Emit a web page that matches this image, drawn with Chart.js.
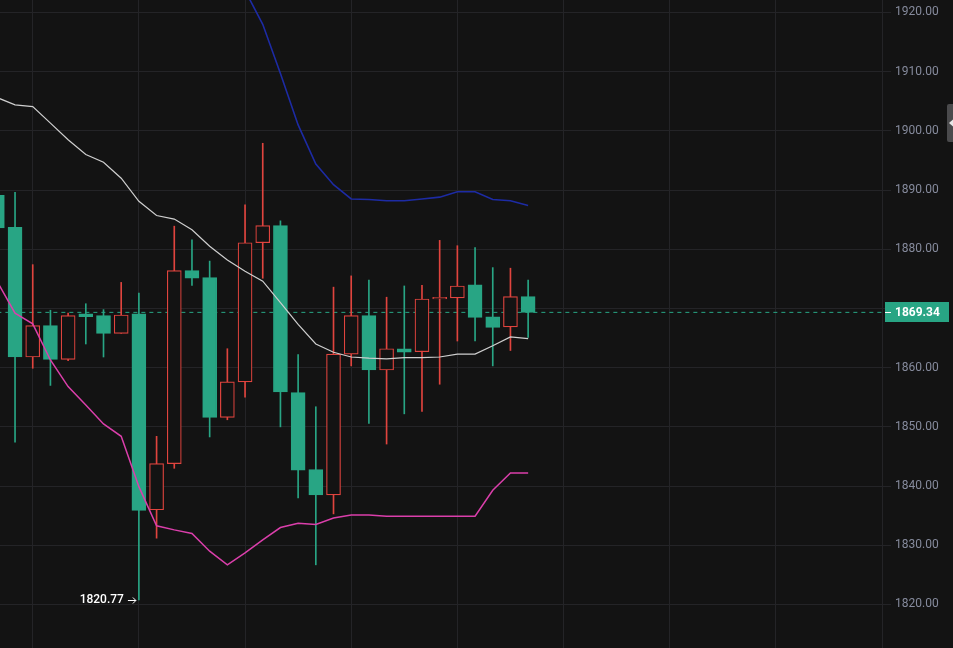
<!DOCTYPE html>
<html>
<head>
<meta charset="utf-8">
<script src="https://cdn.jsdelivr.net/npm/chart.js@4.4.1/dist/chart.umd.min.js"></script>
<style>
  html, body { margin: 0; padding: 0; background: #131313; overflow: hidden; }
  #c { display: block; width: 953px; height: 648px; }
</style>
</head>
<body>
<canvas id="c" width="953" height="648"></canvas>
<script>
// slot positions: first candle is cut off by the left edge
const slots  = [-1, 0, 1, 2, 3, 4, 5, 6, 7, 8, 9, 10, 11, 12, 13, 14, 15, 16, 17, 18, 19, 20, 21, 22, 23, 24, 25, 26, 27, 28, 29];
const opens  = [1889.1, 1883.7, 1861.8, 1867.1, 1861.4, 1869.1, 1868.8, 1865.8, 1869.1, 1836.0, 1843.8, 1876.4, 1875.2, 1851.6, 1857.6, 1881.1, 1884.0, 1855.8, 1842.8, 1838.5, 1862.3, 1868.8, 1859.6, 1863.2, 1862.7, 1871.6, 1871.8, 1874.0, 1868.6, 1866.9, 1872.0];
const highs  = [1890.5, 1889.6, 1877.4, 1869.7, 1869.2, 1870.8, 1869.8, 1874.4, 1872.6, 1848.4, 1883.9, 1881.6, 1878.0, 1863.2, 1887.5, 1897.9, 1884.8, 1862.2, 1853.4, 1873.6, 1875.5, 1874.8, 1871.9, 1873.8, 1873.9, 1881.5, 1880.6, 1880.3, 1876.9, 1876.8, 1874.8];
const lows   = [1882.0, 1847.4, 1859.9, 1857.0, 1861.2, 1864.0, 1861.8, 1865.8, 1820.77, 1831.2, 1843.0, 1873.9, 1848.3, 1851.2, 1855.0, 1875.1, 1850.0, 1838.0, 1826.7, 1835.3, 1860.3, 1850.6, 1847.1, 1852.2, 1852.6, 1857.2, 1864.5, 1864.5, 1860.3, 1862.9, 1865.1];
const closes = [1883.6, 1861.8, 1867.1, 1861.4, 1868.8, 1868.6, 1865.8, 1868.9, 1835.9, 1843.8, 1876.4, 1875.1, 1851.6, 1857.6, 1881.1, 1884.0, 1855.9, 1842.7, 1838.5, 1862.3, 1868.8, 1859.6, 1863.2, 1862.6, 1871.6, 1871.9, 1873.8, 1868.5, 1866.8, 1872.0, 1869.34];

// band lines (null = above the visible range)
const midBand   = [1905.6, 1904.4, 1904.1, 1901.3, 1898.5, 1896.0, 1894.7, 1892.0, 1888.1, 1885.7, 1885.1, 1883.3, 1880.5, 1878.2, 1876.3, 1874.6, 1871.0, 1867.3, 1864.0, 1862.6, 1861.8, 1861.6, 1861.5, 1861.7, 1861.7, 1861.8, 1862.3, 1862.3, 1863.7, 1865.2, 1864.9];
const upperBand = [null, null, null, null, null, null, null, null, null, null, null, null, null, null, 1923.7, 1918.0, 1909.7, 1901.0, 1894.4, 1890.9, 1888.5, 1888.4, 1888.2, 1888.2, 1888.5, 1888.8, 1889.7, 1889.7, 1888.4, 1888.2, 1887.4];
const lowerBand = [1874.5, 1869.2, 1867.4, 1861.3, 1856.8, 1853.7, 1850.5, 1848.4, 1839.9, 1833.3, 1832.6, 1832.0, 1829.0, 1826.7, 1828.7, 1830.9, 1833.0, 1833.7, 1833.5, 1834.6, 1835.1, 1835.1, 1834.9, 1834.9, 1834.9, 1834.9, 1834.9, 1834.9, 1839.3, 1842.2, 1842.2];

const yTicks = [1820, 1830, 1840, 1850, 1860, 1870, 1880, 1890, 1900, 1910, 1920];
const xGrid  = [1, 7, 13, 19, 25, 31, 37, 43, 49];

const lastPrice = closes[closes.length - 1];
const lowIdx = lows.indexOf(Math.min(...lows));

const BG = '#131313';
const UP = '#e0443e';     // red hollow = rising
const DOWN = '#28a584';   // green filled = falling
const GRID = '#242427';

const isUp = opens.map((o, i) => closes[i] >= o);

const bodies = slots.map((x, i) => ({ x, y: [opens[i], closes[i]] }));
const wicks  = slots.map((x, i) => ({ x, y: [lows[i], highs[i]] }));
const line = arr => slots.map((x, i) => ({ x, y: arr[i] }));

// price tag on the axis, low marker, small handle at the right edge
const overlay = {
  id: 'overlay',
  afterDraw(chart) {
    const { ctx, scales: { x, y }, chartArea } = chart;
    ctx.save();
    // last price tag
    const py = Math.round(y.getPixelForValue(lastPrice));
    ctx.fillStyle = DOWN;
    ctx.fillRect(chartArea.right + 3, py - 10, 64, 20);
    ctx.strokeStyle = '#ffffff';
    ctx.lineWidth = 1;
    ctx.beginPath();
    ctx.moveTo(chartArea.right + 3, py + 0.5);
    ctx.lineTo(chartArea.right + 9, py + 0.5);
    ctx.stroke();
    ctx.fillStyle = '#ffffff';
    ctx.font = 'bold 12px Roboto';
    ctx.textBaseline = 'middle';
    ctx.textAlign = 'left';
    ctx.fillText(lastPrice.toFixed(2), chartArea.right + 13, py + 1);

    // lowest low label with arrow
    const lx = x.getPixelForValue(slots[lowIdx]);
    const ly = Math.round(y.getPixelForValue(lows[lowIdx]));
    ctx.font = '500 12px Roboto';
    ctx.textAlign = 'right';
    ctx.fillText(lows[lowIdx].toFixed(2), lx - 15, ly);
    ctx.strokeStyle = '#ffffff';
    ctx.beginPath();
    ctx.moveTo(lx - 11, ly + 0.5);
    ctx.lineTo(lx - 3, ly + 0.5);
    ctx.moveTo(lx - 6, ly - 2.5);
    ctx.lineTo(lx - 3, ly + 0.5);
    ctx.lineTo(lx - 6, ly + 3.5);
    ctx.stroke();

    // collapse handle
    ctx.fillStyle = '#4a4a4c';
    ctx.beginPath();
    ctx.roundRect(947, 104, 10, 38, 2);
    ctx.fill();
    ctx.fillStyle = '#e6e6e6';
    ctx.beginPath();
    ctx.moveTo(949, 123);
    ctx.lineTo(953, 119.5);
    ctx.lineTo(953, 126.5);
    ctx.closePath();
    ctx.fill();
    ctx.restore();
  }
};

new Chart(document.getElementById('c'), {
  data: {
    datasets: [
      {
        type: 'line', order: 4,
        data: [{ x: -1, y: lastPrice }, { x: 49, y: lastPrice }],
        borderColor: DOWN, borderWidth: 1, borderDash: [4, 4],
        pointRadius: 0
      },
      {
        type: 'bar', order: 3, grouped: false,
        data: wicks,
        backgroundColor: isUp.map(u => u ? UP : DOWN),
        barThickness: 1, borderWidth: 0
      },
      {
        type: 'bar', order: 2, grouped: false,
        data: bodies,
        backgroundColor: isUp.map(u => u ? BG : DOWN),
        borderColor: isUp.map(u => u ? UP : DOWN),
        borderWidth: 1.2, borderSkipped: false,
        barThickness: 14
      },
      {
        type: 'line', order: 1, data: line(midBand),
        borderColor: '#cfcfcf', borderWidth: 1.2, pointRadius: 0, tension: 0
      },
      {
        type: 'line', order: 1, data: line(upperBand),
        borderColor: '#1d2ba4', borderWidth: 1.6, pointRadius: 0, tension: 0
      },
      {
        type: 'line', order: 1, data: line(lowerBand),
        borderColor: '#db3fab', borderWidth: 1.5, pointRadius: 0, tension: 0
      }
    ]
  },
  options: {
    responsive: false,
    animation: false,
    events: [],
    layout: { padding: 0 },
    plugins: { legend: { display: false }, tooltip: { enabled: false } },
    scales: {
      x: {
        type: 'linear', min: -0.85, max: 49, offset: false,
        grid: { color: GRID, drawTicks: false, offset: false },
        border: { display: false },
        ticks: { display: false },
        afterBuildTicks: s => { s.ticks = xGrid.map(v => ({ value: v })); },
        afterFit: s => { s.height = 0; s.paddingLeft = 0; s.paddingRight = 0; }
      },
      y: {
        position: 'right', min: 1812.65, max: 1922.1,
        grid: { color: GRID, tickLength: 9 },
        border: { color: GRID },
        ticks: {
          color: '#868b9d', padding: 4,
          font: { family: 'Roboto', size: 12 },
          callback: v => v.toFixed(2)
        },
        afterBuildTicks: s => { s.ticks = yTicks.map(v => ({ value: v })); },
        afterFit: s => { s.width = 71; s.paddingTop = 0; s.paddingBottom = 0; }
      }
    }
  },
  plugins: [overlay]
});
</script>
</body>
</html>
